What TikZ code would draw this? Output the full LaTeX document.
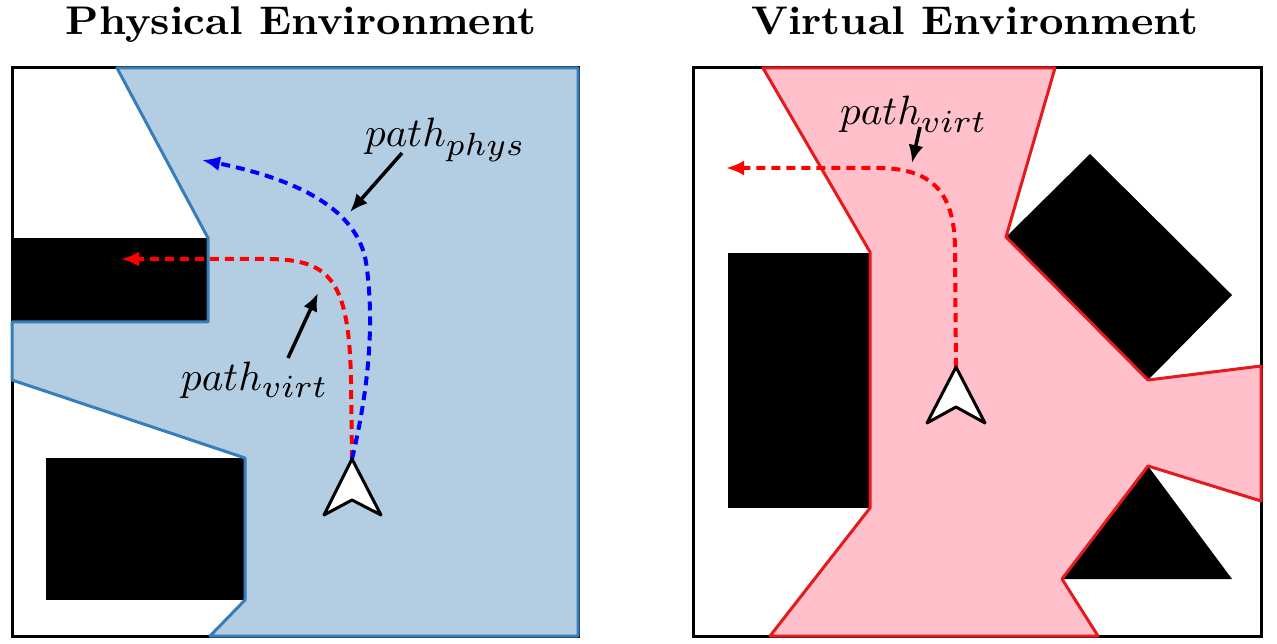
\documentclass[tikz,border=0pt]{standalone}
\usetikzlibrary{arrows.meta}
\definecolor{physfill}{HTML}{B3CDE3}
\definecolor{physline}{HTML}{377EB8}
\definecolor{virtfill}{HTML}{FFC0CB}
\definecolor{virtline}{HTML}{E41A1C}
\newcommand{\subsc}[1]{\scalebox{1.12}{$\scriptstyle #1$}}
\begin{document}
\begin{tikzpicture}[x=1pt,y=-1pt,
  frame/.style={draw=black, line width=3pt},
  obst/.style={fill=black},
  physarea/.style={fill=physfill, draw=physline, line width=3pt, line join=round},
  virtarea/.style={fill=virtfill, draw=virtline, line width=3pt, line join=round},
  route/.style={line width=4pt, dash pattern=on 9pt off 6pt, -{Latex[length=18pt,width=15pt]}},
  pointer/.style={line width=3.5pt, -{Latex[length=18pt,width=15pt]}},
  user/.style={fill=white, draw=black, line width=3pt, line join=round},
  lbl/.style={inner sep=0pt, anchor=base west},
  ttl/.style={inner sep=0pt, anchor=base}]
\useasboundingbox (0,0) rectangle (1277,644);

% titles
\node[ttl] (t1) at (301,35) {\scalebox{4.25}[4.0]{\textbf{Physical Environment}}};
\node[ttl] (t2) at (975,35) {\scalebox{4.25}[4.0]{\textbf{Virtual Environment}}};

% ---------- physical environment ----------
\draw[frame] (12,68) rectangle (578,636);
\fill[obst] (12,238) rectangle (208,322);
\fill[obst] (46,458) rectangle (245,600);
\path[physarea] (117,68) -- (208,238) -- (208,322) -- (12,322) -- (12,380)
  -- (245,458) -- (245,600) -- (210,636) -- (578,636) -- (578,68) -- cycle;

\coordinate (u1tip) at (352,459);
\draw[route, red] (u1tip) -- (351,380) .. controls (349,280) and (330,260) .. (270,259) -- (121,259);
\draw[route, blue] (u1tip) .. controls (366,400) and (376,330) .. (366,262)
  .. controls (357,210) and (300,180) .. (202,160);
\path[user] (u1tip) -- (381,515) -- (352,500) -- (324,515) -- cycle;

\node[lbl] (lphys) at (365,147) {\scalebox{4.1}{$path_{\subsc{phys}}$}};
\node[lbl] (lvirt1) at (181,390) {\scalebox{4.1}{$path_{\subsc{virt}}$}};
\coordinate (a1s) at (402,153); \coordinate (a1e) at (350,212);
\coordinate (a2s) at (288,358); \coordinate (a2e) at (318,293);
\draw[pointer] (a1s) -- (a1e);
\draw[pointer] (a2s) -- (a2e);

% ---------- virtual environment ----------
\draw[frame] (693,68) rectangle (1261,636);
\fill[obst] (728,253) rectangle (870,508);
\fill[obst] (1006,237) -- (1090,154) -- (1232,295) -- (1148,380) -- cycle;
\fill[obst] (1148,466) -- (1062,579) -- (1232,579) -- cycle;
\path[virtarea] (763,68) -- (1055,68) -- (1006,237) -- (1148,380) -- (1261,366)
  -- (1261,501) -- (1148,466) -- (1062,579) -- (1098,636) -- (770,636)
  -- (870,508) -- (870,252) -- cycle;

\coordinate (u2tip) at (956,367);
\draw[route, red] (u2tip) -- (955,250) .. controls (955,190) and (930,169) .. (880,168) -- (726,168);
\path[user] (u2tip) -- (985,423) -- (956,407) -- (927,423) -- cycle;

\node[lbl] (lvirt2) at (840,125) {\scalebox{4.1}{$path_{\subsc{virt}}$}};
\coordinate (a3s) at (920,127); \coordinate (a3e) at (912,163);
\draw[pointer] (a3s) -- (a3e);
\end{tikzpicture}
\end{document}
